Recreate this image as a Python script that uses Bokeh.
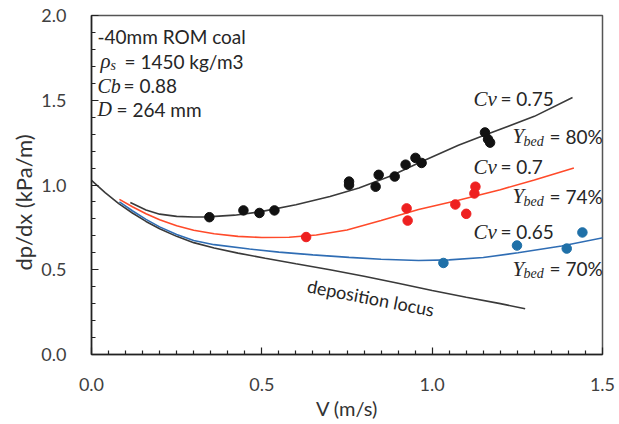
from bokeh.plotting import figure
from bokeh.models import Range1d, FixedTicker, PrintfTickFormatter, Label, Title
from bokeh.embed import file_html
from bokeh.resources import INLINE

# ---------------- data ----------------
# model curves
cv75_x = [0.114, 0.16, 0.20, 0.25, 0.30, 0.34, 0.42, 0.49, 0.60, 0.70, 0.785, 0.88, 0.96, 1.077, 1.155, 1.30, 1.412]
cv75_y = [0.897, 0.852, 0.828, 0.815, 0.811, 0.812, 0.822, 0.840, 0.883, 0.932, 0.982, 1.055, 1.130, 1.235, 1.295, 1.405, 1.516]

cv70_x = [0.082, 0.12, 0.16, 0.20, 0.25, 0.30, 0.36, 0.43, 0.50, 0.58, 0.66, 0.75, 0.85, 0.96, 1.077, 1.20, 1.30, 1.416]
cv70_y = [0.915, 0.872, 0.830, 0.795, 0.760, 0.733, 0.712, 0.697, 0.690, 0.692, 0.705, 0.735, 0.790, 0.855, 0.910, 0.972, 1.030, 1.100]

cv65_x = [0.082, 0.12, 0.16, 0.20, 0.25, 0.30, 0.36, 0.464, 0.55, 0.65, 0.756, 0.85, 0.96, 1.05, 1.15, 1.252, 1.38, 1.505]
cv65_y = [0.900, 0.848, 0.797, 0.753, 0.708, 0.673, 0.648, 0.622, 0.604, 0.588, 0.573, 0.562, 0.555, 0.558, 0.572, 0.600, 0.640, 0.690]

dep_x = [0.0, 0.04, 0.08, 0.12, 0.16, 0.20, 0.25, 0.30, 0.36, 0.43, 0.51, 0.60, 0.70, 0.80, 0.90, 1.00, 1.10, 1.20, 1.273]
dep_y = [1.027, 0.955, 0.890, 0.835, 0.785, 0.742, 0.697, 0.660, 0.628, 0.598, 0.568, 0.535, 0.500, 0.462, 0.420, 0.378, 0.338, 0.300, 0.270]

# measured points
pts75_x = [0.346, 0.446, 0.493, 0.537, 0.756, 0.756, 0.834, 0.843, 0.890, 0.922, 0.951, 0.969, 1.155, 1.164, 1.170]
pts75_y = [0.810, 0.850, 0.835, 0.850, 1.020, 1.000, 0.990, 1.060, 1.050, 1.120, 1.160, 1.130, 1.310, 1.270, 1.250]

pts70_x = [0.630, 0.925, 0.928, 1.068, 1.100, 1.124, 1.127]
pts70_y = [0.693, 0.862, 0.790, 0.885, 0.830, 0.950, 0.990]

pts65_x = [1.033, 1.249, 1.395, 1.441]
pts65_y = [0.540, 0.643, 0.625, 0.720]

x_major = [0.0, 0.5, 1.0, 1.5]
x_minor = [0.05, 0.1, 0.15, 0.2, 0.25, 0.3, 0.35, 0.4, 0.45, 0.55, 0.6, 0.65, 0.7,
           0.75, 0.8, 0.85, 0.9, 0.95, 1.05, 1.1, 1.15, 1.2, 1.25, 1.3, 1.35, 1.4, 1.45]
y_major = [0.0, 0.5, 1.0, 1.5, 2.0]
y_minor = [0.1, 0.2, 0.3, 0.4, 0.6, 0.7, 0.8, 0.9, 1.1, 1.2, 1.3, 1.4, 1.6, 1.7, 1.8, 1.9]

# ---------------- styles ----------------
SANS = "Lato"
SERIF = "Liberation Serif"
TXT = "#262626"
BLACK_LINE = "#3a3a3a"
RED_LINE = "#ff4a2a"
BLUE_LINE = "#2f6db4"
BLACK_PT = "#111111"
RED_PT = "#ee2020"
BLUE_PT = "#1f70a8"

p = figure(width=618, height=423, output_backend="svg", toolbar_location=None,
           x_range=Range1d(0, 1.5), y_range=Range1d(0, 2.0),
           min_border_left=91, min_border_right=16, min_border_top=15, min_border_bottom=69,
           background_fill_color="white", border_fill_color="white")

p.xgrid.visible = False
p.ygrid.visible = False
p.outline_line_color = "#555555"
p.outline_line_width = 1.5

for ax, major, minor in ((p.xaxis[0], x_major, x_minor), (p.yaxis[0], y_major, y_minor)):
    ax.ticker = FixedTicker(ticks=major, minor_ticks=minor)
    ax.formatter = PrintfTickFormatter(format="%.1f")
    ax.axis_line_color = "#222222"
    ax.axis_line_width = 1.5
    ax.major_tick_in = 7
    ax.major_tick_out = 0
    ax.minor_tick_in = 4
    ax.minor_tick_out = 0
    ax.major_tick_line_color = "#222222"
    ax.minor_tick_line_color = "#222222"
    ax.major_tick_line_width = 1.2
    ax.minor_tick_line_width = 1.2
    ax.major_label_text_font = SANS
    ax.major_label_text_font_size = "18px"
    ax.major_label_text_color = "#404040"

p.xaxis.major_label_standoff = 23
p.yaxis.major_label_standoff = 25

# axis titles
p.add_layout(Title(text="dp/dx (kPa/m)", align="left", offset=84, standoff=4,
                   text_font=SANS, text_font_size="22px", text_font_style="normal",
                   text_color="#333333"), "left")
p.add_layout(Title(text="V (m/s)", align="center", standoff=0,
                   text_font=SANS, text_font_size="20px", text_font_style="normal",
                   text_color="#333333"), "below")

# curves
p.line(dep_x, dep_y, line_color=BLACK_LINE, line_width=1.6)
p.line(cv65_x, cv65_y, line_color=BLUE_LINE, line_width=1.6)
p.line(cv70_x, cv70_y, line_color=RED_LINE, line_width=1.6)
p.line(cv75_x, cv75_y, line_color=BLACK_LINE, line_width=1.6)

# points
p.scatter(pts75_x, pts75_y, size=9.5, color=BLACK_PT)
p.scatter(pts70_x, pts70_y, size=9.5, color=RED_PT)
p.scatter(pts65_x, pts65_y, size=9.5, color=BLUE_PT)

DY = 7


def lab(x, y, text, dx=0, dy=0, font=SANS, size="19px", style="normal", angle=0.0):
    p.add_layout(Label(x=x, y=y, text=text, x_offset=dx, y_offset=dy + DY,
                       text_font=font, text_font_size=size, text_font_style=style,
                       text_color=TXT, text_baseline="alphabetic", text_align="left",
                       angle=angle))


# top-left block
X0 = 0.0176
lab(X0, 1.835, "-40mm ROM coal")
lab(X0, 1.690, "\u03c1", dx=3, font=SERIF, size="21px", style="italic")
lab(X0, 1.690, "s", dx=13, dy=-4, font=SERIF, size="14px", style="italic")
lab(X0, 1.690, "= 1450 kg/m3", dx=27)
lab(X0, 1.545, "Cb", font=SERIF, size="20px", style="italic")
lab(X0, 1.545, "= 0.88", dx=26)
lab(X0, 1.405, "D", font=SERIF, size="20px", style="italic")
lab(X0, 1.405, "= 264 mm", dx=19)

# right side labels
XC = 1.121
XY = 1.236
for ycv, cvtxt, yyb, ybtxt in ((1.469, "= 0.75", 1.245, "= 80%"),
                               (1.065, "= 0.7", 0.891, "= 74%"),
                               (0.684, "= 0.65", 0.466, "= 70%")):
    lab(XC, ycv, "Cv", font=SERIF, size="21px", style="italic")
    lab(XC, ycv, cvtxt, dx=27)
    lab(XY, yyb, "Y", font=SERIF, size="21px", style="italic")
    lab(XY, yyb, "bed", dx=11, dy=-5, font=SERIF, size="14px", style="italic")
    lab(XY, yyb, ybtxt, dx=37)

# deposition locus
lab(0.634, 0.366, "deposition locus", size="18px", angle=-0.19)

open("out.html", "w").write(file_html(p, INLINE))
